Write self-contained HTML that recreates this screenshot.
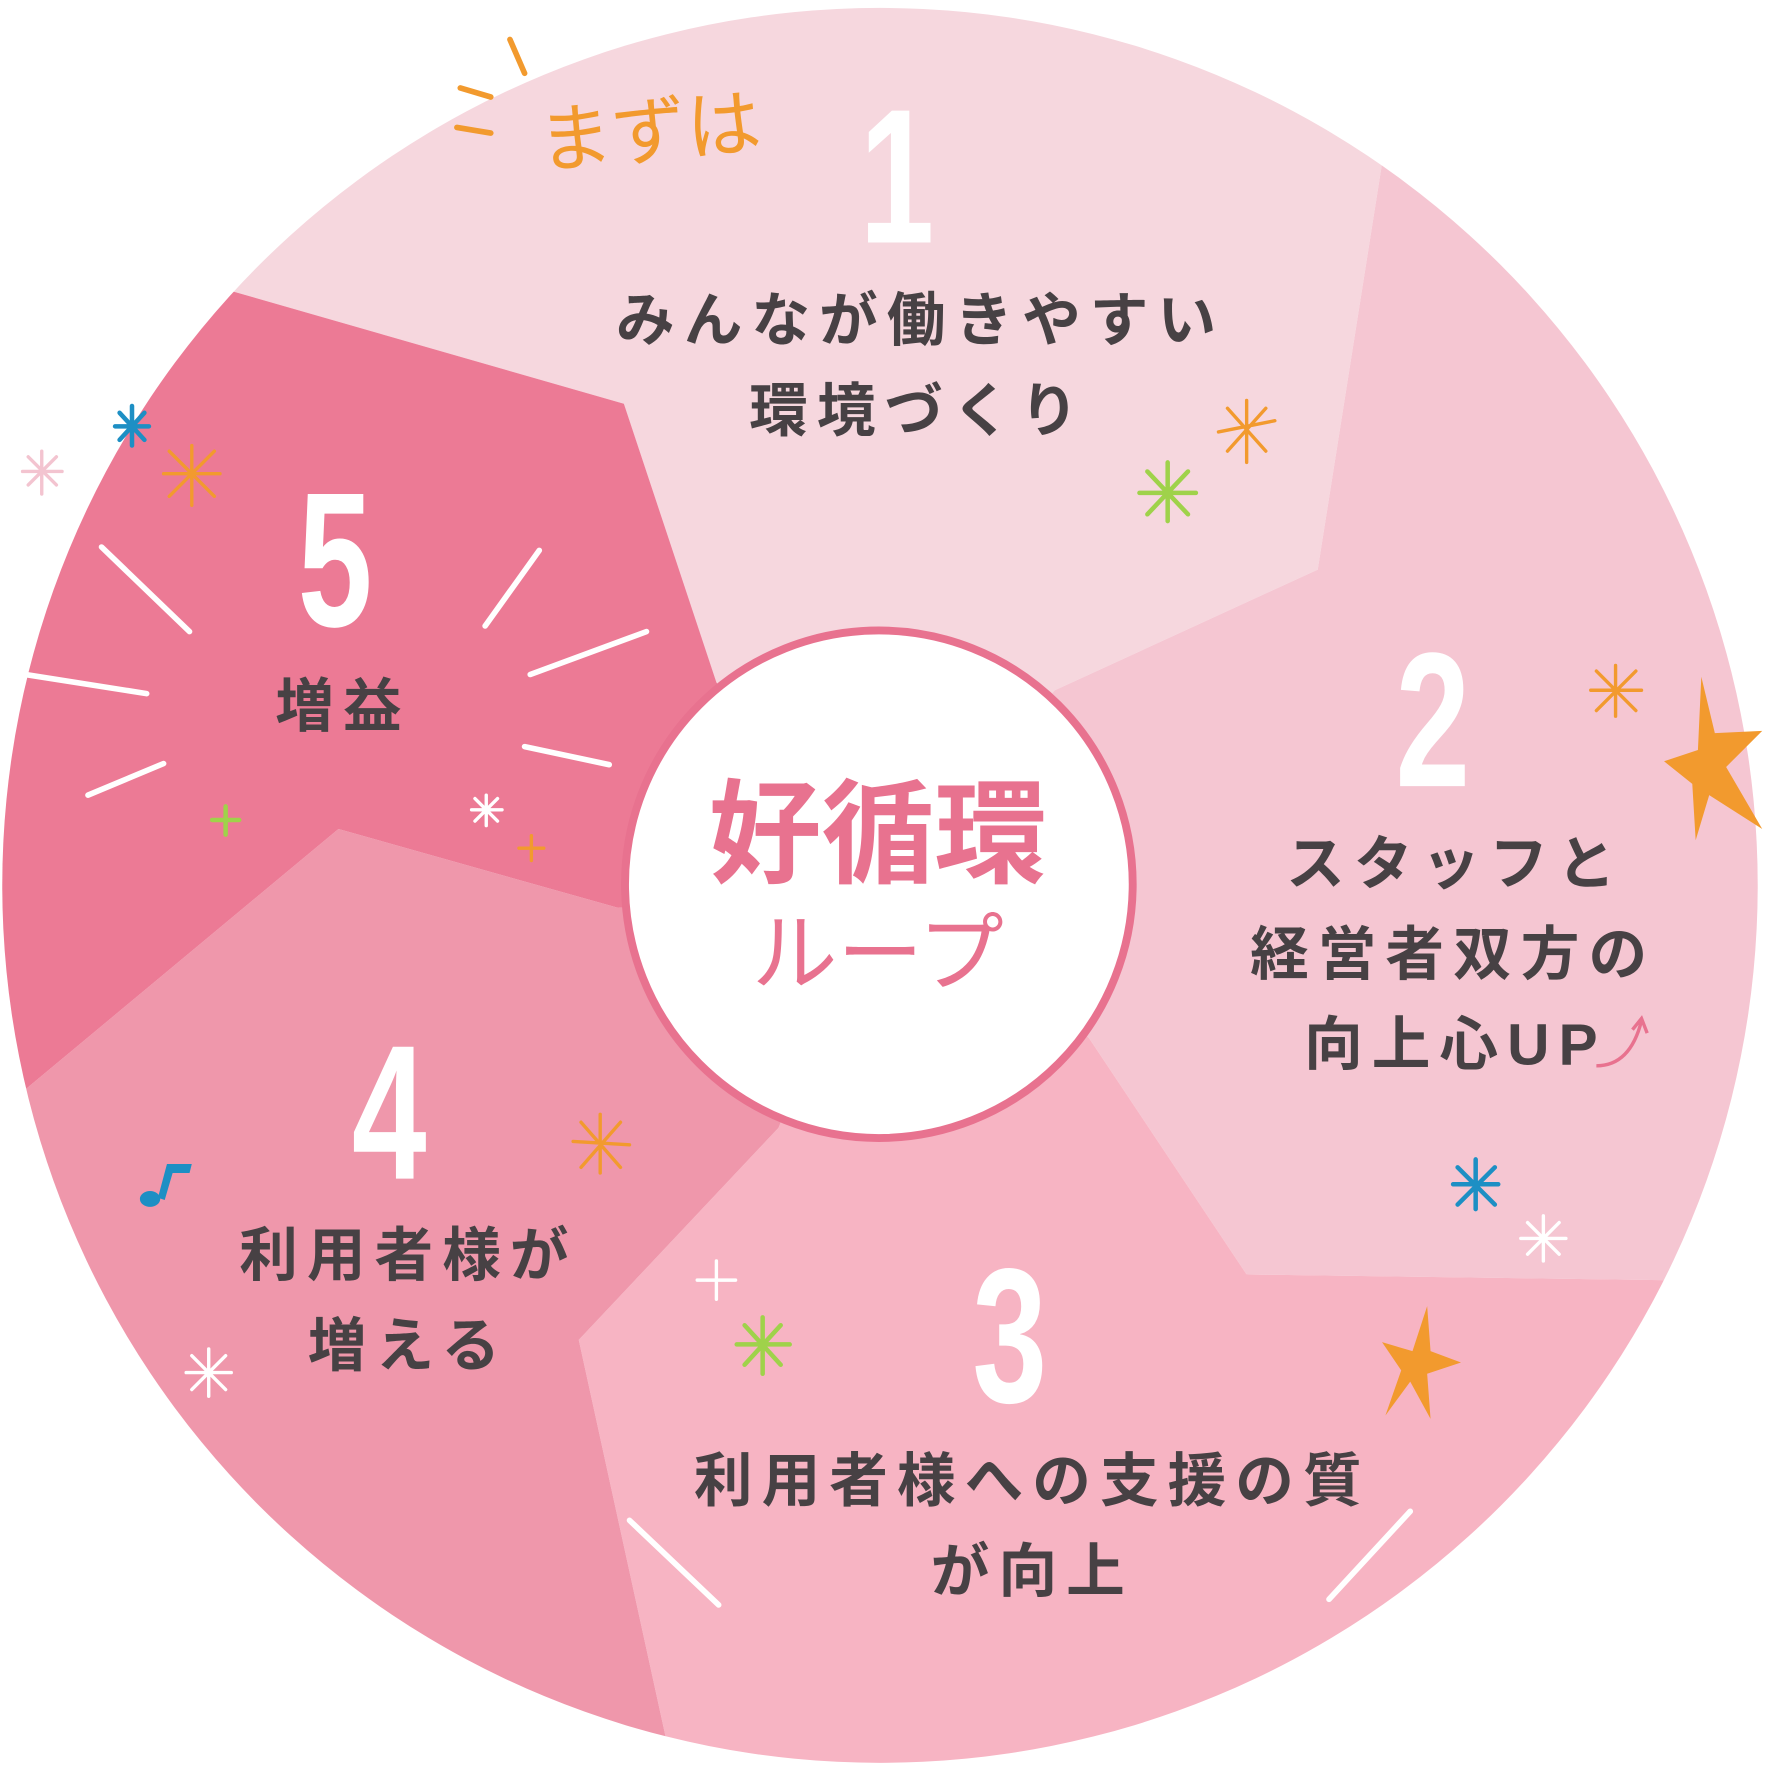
<!DOCTYPE html>
<html><head><meta charset="utf-8"><style>
html,body{margin:0;padding:0;background:#fff;width:1769px;height:1773px;overflow:hidden;}
svg{display:block;}
text{font-family:"Liberation Sans","Noto Sans CJK JP",sans-serif;}
</style></head><body>
<svg width="1769" height="1773" viewBox="0 0 1568 1572" preserveAspectRatio="none" xmlns="http://www.w3.org/2000/svg">
<defs><clipPath id="c"><circle cx="780" cy="785" r="778"/></clipPath></defs>
<g clip-path="url(#c)">
<polygon fill="#f6d7de" points="780,785 635,605 553,358 205,258 -300,113 -300,-300 1240,-300 1225,145 1168,505 935,612"/>
<polygon fill="#f5c6d2" points="780,785 935,612 1168,505 1225,145 1240,-300 1900,-300 1900,1140 1472,1135 1105,1130 965,920"/>
<polygon fill="#f7b4c3" points="780,785 965,920 1105,1130 1472,1135 1900,1140 1900,1900 600,1900 590,1540 513,1188 690,1000"/>
<polygon fill="#ef97ab" points="780,785 690,1000 513,1188 590,1540 600,1900 -300,1900 -300,1230 20,968 300,735 548,805"/>
<polygon fill="#ec7a95" points="780,785 548,805 300,735 20,968 -300,1230 -300,113 205,258 553,358 635,605"/>
</g>
<circle cx="779" cy="784" r="225" fill="#fff" stroke="#e8728f" stroke-width="7"/>
<text x="778" y="775" text-anchor="middle" font-size="100" font-weight="bold" fill="#e8728f">好循環</text>
<text x="778" y="872" text-anchor="middle" font-size="76" fill="#e8728f">ループ</text>
<g font-weight="bold" fill="#fff" font-family="DejaVu Sans" text-anchor="middle" font-size="170">
<text transform="translate(795,215) scale(0.7,1)">1</text>
<text transform="translate(1270,697) scale(0.7,1)">2</text>
<text transform="translate(895,1243) scale(0.7,1)">3</text>
<text transform="translate(345,1045) scale(0.7,1)">4</text>
<text transform="translate(297,555) scale(0.7,1)">5</text>
</g>
<g font-weight="bold" fill="#474144" font-size="52" text-anchor="middle" letter-spacing="8">
<text x="816" y="302">みんなが働きやすい</text>
<text x="814" y="382">環境づくり</text>
<text x="1290" y="784">スタッフと</text>
<text x="1288" y="864">経営者双方の</text>
<text x="1290" y="944">向上心UP</text>
<text x="915" y="1331">利用者様への支援の質</text>
<text x="915" y="1411">が向上</text>
<text x="362" y="1131">利用者様が</text>
<text x="362" y="1211">増える</text>
<text x="304" y="644">増益</text>
</g>
<path d="M1415,945 Q1445,945 1455,905 M1447,913 L1455,903 L1460,916" stroke="#e8728f" stroke-width="3" fill="none"/>
<text x="575" y="140" text-anchor="middle" font-size="66" fill="#f29a2e" transform="rotate(-5 575 110)">まずは</text>
<g stroke="#f29a2e" stroke-width="5" fill="none" stroke-linecap="round">
<path d="M408,78 L435,86 M405,113 L435,118 M452,35 L465,65"/>
</g>
<g fill="#f29a2e">
<polygon points="1508,600 1520,650 1562,648 1530,680 1562,735 1515,705 1503,745 1500,695 1475,675 1505,665"/>
<polygon points="1265,1158 1268,1198 1295,1208 1265,1218 1268,1258 1250,1225 1228,1255 1242,1215 1225,1190 1252,1198"/>
</g>
<g stroke="#fff" stroke-width="5" stroke-linecap="round" fill="none">
<path d="M90,485 L168,560 M430,555 L478,488 M470,598 L573,560 M465,662 L540,678 M22,598 L130,615 M78,705 L145,677 M558,1348 L637,1423 M1178,1418 L1250,1340"/>
</g>
<g stroke-width="3" stroke-linecap="round">
<g stroke="#f29a2e"><path d="M1080,383 L1130,373 M1105,355 L1105,410 M1088,362 L1122,400 M1122,362 L1088,400"/>
<path d="M1410,612 L1455,612 M1432,590 L1432,635 M1415,595 L1450,630 M1450,595 L1415,630"/>
<path d="M145,420 L195,420 M170,395 L170,448 M150,400 L190,440 M190,400 L150,440"/>
<path d="M508,1012 L558,1015 M532,988 L532,1040 M515,995 L550,1035 M550,995 L515,1035"/>
<path d="M460,752 L482,752 M471,741 L471,763"/></g>
<g stroke="#9fd24a" stroke-width="4"><path d="M1010,437 L1060,437 M1035,410 L1035,462 M1017,418 L1053,456 M1053,418 L1017,456"/>
<path d="M653,1192 L700,1192 M676,1168 L676,1218 M660,1175 L692,1210 M692,1175 L660,1210"/>
<path d="M188,727 L212,727 M200,715 L200,740"/></g>
<g stroke="#1d8fc4" stroke-width="4"><path d="M1288,1050 L1328,1050 M1308,1028 L1308,1072 M1292,1035 L1325,1068 M1325,1035 L1292,1068"/>
<path d="M102,378 L132,378 M117,360 L117,395 M106,366 L128,390 M128,366 L106,390"/></g>
<g stroke="#fff"><path d="M1348,1098 L1388,1098 M1368,1078 L1368,1118 M1354,1084 L1382,1112 M1382,1084 L1354,1112"/>
<path d="M165,1217 L205,1217 M185,1196 L185,1238 M170,1202 L200,1232 M200,1202 L170,1232"/>
<path d="M618,1135 L652,1135 M635,1118 L635,1152"/>
<path d="M418,718 L445,718 M431,705 L431,732 M421,708 L441,728 M441,708 L421,728"/></g>
<g stroke="#f3c4d0"><path d="M20,418 L55,418 M37,400 L37,438 M25,405 L50,430 M50,405 L25,430"/></g>
</g>
<g fill="#1d8fc4"><ellipse cx="133" cy="1063" rx="9" ry="7"/><path d="M140,1062 L148,1032 L170,1032 L168,1040 L153,1040 L146,1064Z"/></g>
</svg>
</body></html>
